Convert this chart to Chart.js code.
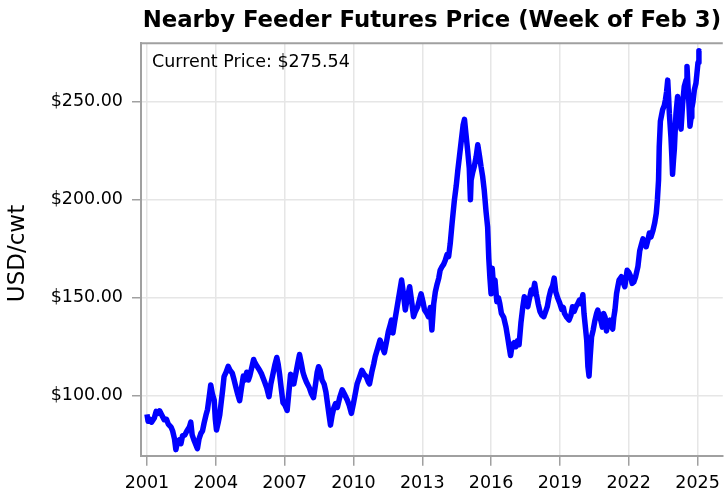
<!DOCTYPE html>
<html>
<head>
<meta charset="utf-8">
<script src="https://cdn.jsdelivr.net/npm/chart.js@4.4.1/dist/chart.umd.min.js"></script>
<style>
html,body{margin:0;padding:0;background:#fff;overflow:hidden;}
#wrap{width:727px;height:494px;position:relative;}
</style>
</head>
<body>
<div id="wrap"><canvas id="c" width="727" height="494"></canvas></div>
<script>
// Week (decimal year) and nearby feeder futures price (USD/cwt)
const weeks = [
2001.00,2001.05,2001.12,2001.20,2001.32,2001.40,2001.48,2001.55,2001.65,2001.75,2001.85,2001.93,
2002.05,2002.12,2002.20,2002.26,2002.32,2002.41,2002.48,2002.55,2002.65,2002.74,2002.85,2002.91,2002.97,
2003.06,2003.13,2003.20,2003.27,2003.35,2003.42,2003.49,2003.57,2003.64,2003.72,2003.78,2003.85,2003.93,2003.98,
2004.03,2004.10,2004.17,2004.22,2004.30,2004.36,2004.45,2004.54,2004.62,2004.72,2004.80,2004.87,2004.95,
2005.04,2005.12,2005.20,2005.26,2005.35,2005.42,2005.48,2005.58,2005.65,2005.70,2005.80,2005.91,
2006.00,2006.13,2006.22,2006.32,2006.40,2006.50,2006.58,2006.66,2006.72,2006.78,2006.85,2006.93,
2007.02,2007.11,2007.18,2007.26,2007.33,2007.40,2007.50,2007.58,2007.65,2007.72,2007.80,2007.86,2007.95,
2008.08,2008.17,2008.26,2008.35,2008.42,2008.48,2008.55,2008.63,2008.72,2008.80,2008.87,2008.94,
2009.00,2009.07,2009.15,2009.22,2009.30,2009.40,2009.51,2009.60,2009.73,2009.82,2009.91,
2010.00,2010.08,2010.16,2010.25,2010.37,2010.46,2010.56,2010.65,2010.70,2010.80,2010.88,2010.95,
2011.05,2011.16,2011.25,2011.35,2011.45,2011.52,2011.60,2011.66,2011.72,2011.80,2011.90,
2012.00,2012.10,2012.18,2012.26,2012.35,2012.45,2012.55,2012.62,2012.70,2012.80,2012.88,2012.95,
2013.03,2013.10,2013.20,2013.27,2013.35,2013.42,2013.50,2013.57,2013.65,2013.72,2013.78,2013.87,2013.93,
2014.00,2014.08,2014.15,2014.22,2014.30,2014.40,2014.48,2014.55,2014.62,2014.70,2014.78,2014.84,2014.90,2014.98,
2015.05,2015.10,2015.13,2015.20,2015.27,2015.35,2015.42,2015.50,2015.56,2015.63,2015.70,2015.78,2015.85,2015.90,2015.95,
2016.00,2016.05,2016.10,2016.17,2016.25,2016.32,2016.38,2016.45,2016.55,2016.65,2016.72,2016.80,2016.85,2016.92,
2017.00,2017.08,2017.15,2017.22,2017.30,2017.38,2017.45,2017.52,2017.60,2017.68,2017.75,2017.82,2017.90,2017.97,
2018.05,2018.13,2018.22,2018.30,2018.38,2018.45,2018.52,2018.60,2018.68,2018.75,2018.82,2018.90,
2019.00,2019.08,2019.15,2019.20,2019.30,2019.40,2019.48,2019.55,2019.62,2019.70,2019.78,2019.85,2019.92,
2020.00,2020.05,2020.12,2020.17,2020.22,2020.27,2020.32,2020.38,2020.45,2020.53,2020.60,2020.65,2020.72,2020.78,2020.85,2020.90,2020.97,
2021.03,2021.10,2021.18,2021.25,2021.30,2021.35,2021.40,2021.47,2021.53,2021.58,2021.68,2021.75,2021.83,2021.93,
2022.00,2022.08,2022.15,2022.22,2022.30,2022.40,2022.48,2022.55,2022.62,2022.70,2022.76,2022.85,2022.90,2022.97,
2023.05,2023.13,2023.20,2023.25,2023.30,2023.33,2023.38,2023.43,2023.48,2023.55,2023.60,2023.65,2023.70,2023.74,2023.77,2023.84,2023.88,2023.91,2023.95,2023.99,
2024.06,2024.13,2024.20,2024.28,2024.35,2024.42,2024.50,2024.54,2024.58,2024.61,2024.67,2024.72,2024.75,2024.80,2024.86,2024.93,2024.97,
2025.02,2025.06,2025.09
];
const prices = [
90.5,87,88,86.5,88.6,92,91,92.3,90,87.7,88,85.5,
84,82,78,72.5,76,77.4,75.5,79.5,80,82,84,86.5,80,
77,75,73,78,80.8,82,86,90,93,100,105.5,101,97.8,88,
82.5,86,90,95,103,109.7,112,115,113,111.5,108,104.6,101,
97.5,104,110,108,112,108,110,115,118.5,117,115,113,
111,107,104,99.5,106,111.5,116,119.5,116,111,104,96.5,
95,92.5,101,111,107,106,112,117,121,117,112,109.7,107,
104,101,99,106,112,114.8,113,108,106,102,96,90,
85,90,94,96,94,99,103,101,97.8,95,91,
96,101,106,109,113,111,109.7,107,106,112,116,120,
124,128.4,125,122,128,132.6,136,138.6,132,138,145,
152,159,152,143.7,150,155.6,147,140.3,143,145.4,149,152,
148,143.7,142,140.3,145,133.5,147,153,157,160,164,166,167,
169,172,171,177.7,188,199.7,207,215,222,230,238,241,234,225,
216,200,210,214,217,222,228,222,217,212,205,194,186,170,160,
152,165,157,159,148,150,147,142,140,135,130,124,120.5,126,
127,125,128,126,137,145,150.5,147,145.4,150,153.9,152,157.3,152,
147,143,141,140.3,143,145.4,150,153.9,156,160,153,150,
147,144,145,142,140,138.6,141,145.4,143,145.4,147,148.8,147,
151.5,142,134,128,115,110,120,130,133.5,138.6,142,143.7,140,138.6,135,142,140,
133,137,138.6,136,134,140,143.7,152.2,156,159,160.7,158,155.6,164,
163,161,157.3,158,160.7,165.8,174,177,180,178,176,180,183,181,
184,188,193,200,210,227,240,243,246,248,251,255,261,252,244,232,222,213,220,226,
244,252.6,242,236,249,257.7,261,268,259,252,237.5,242,246.6,250,256,259.4,264,
270,276,275.54
];
const currentPrice = "$275.54";
const yAxisTitle = "USD/cwt";
const xTickYears = [2001,2004,2007,2010,2013,2016,2019,2022,2025];
const yTickValues = [100,150,200,250];

const points = weeks.map((w,i)=>({x:w,y:prices[i]}));
const FONT = "'DejaVu Sans', sans-serif";
const AXIS = '#a0a0a0';

const framePlugin = {
  id:'frame',
  afterDraw(chart){
    const {ctx, chartArea:a} = chart;
    ctx.save();
    ctx.strokeStyle = AXIS; ctx.lineWidth = 2;
    ctx.beginPath(); ctx.moveTo(a.left-1, a.top); ctx.lineTo(a.right, a.top); ctx.stroke();
    ctx.fillStyle = '#000';
    ctx.font = "17.5px " + FONT;
    ctx.textAlign = 'left'; ctx.textBaseline = 'middle';
    ctx.fillText('Current Price: ' + currentPrice, a.left + 11, a.top + 19);
    // y-axis title
    ctx.font = "23px " + FONT;
    ctx.translate(18, (a.top + a.bottom) / 2 + 4);
    ctx.rotate(-Math.PI / 2);
    ctx.textAlign = 'center'; ctx.textBaseline = 'middle';
    ctx.fillText(yAxisTitle, 0, 0);
    ctx.restore();
  }
};

new Chart(document.getElementById('c'), {
  type:'line',
  data:{datasets:[{data:points, borderColor:'#0000ff', borderWidth:5.5, pointRadius:0, tension:0, fill:false, borderJoinStyle:'round'}]},
  options:{
    responsive:false, animation:false,
    layout:{padding:0},
    plugins:{
      legend:{display:false}, tooltip:{enabled:false},
      title:{display:true, fullSize:false, text:'Nearby Feeder Futures Price (Week of Feb 3)',
        color:'#000', font:{family:FONT, size:22.8, weight:'bold', lineHeight:1.2}, padding:{top:7, bottom:8.9}}
    },
    scales:{
      x:{type:'linear', min:2000.74, max:2026.1,
        afterBuildTicks(s){ s.ticks = xTickYears.map(v=>({value:v})); },
        afterFit(s){ s.height = 38.3; },
        ticks:{callback:v=>String(v), color:'#000', font:{family:FONT, size:17.5}, padding:7, maxRotation:0, autoSkip:false},
        grid:{color:'#e6e6e6', lineWidth:1.5, tickColor:AXIS, tickLength:10, tickWidth:1.5},
        border:{display:true, color:AXIS, width:2}
      },
      y:{type:'linear', min:69.4, max:279.8,
        afterBuildTicks(s){ s.ticks = yTickValues.map(v=>({value:v})); },
        afterFit(s){ s.width = 141; },
        ticks:{callback:v=>'$'+Number(v).toFixed(2), color:'#000', font:{family:FONT, size:17.5}, padding:9},
        grid:{color:'#e6e6e6', lineWidth:1.5, tickColor:AXIS, tickLength:9, tickWidth:1.5},
        border:{display:true, color:AXIS, width:2},
        title:{display:false}
      }
    }
  },
  plugins:[framePlugin]
});
</script>
</body>
</html>
